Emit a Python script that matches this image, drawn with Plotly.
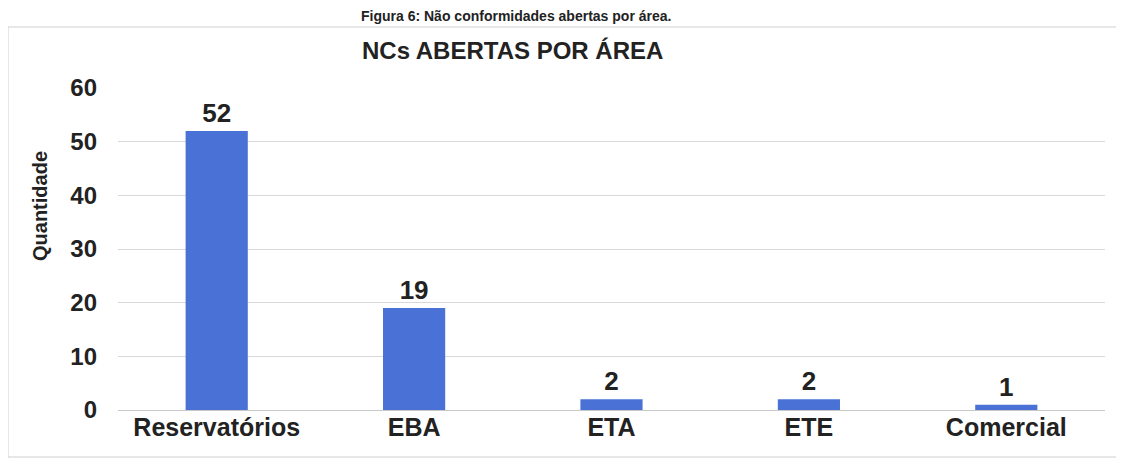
import plotly.graph_objects as go

categories = ["Reservatórios", "EBA", "ETA", "ETE", "Comercial"]
values = [52, 19, 2, 2, 1]
y_ticks = [0, 10, 20, 30, 40, 50, 60]

title_text = "NCs ABERTAS POR ÁREA"
caption_text = "Figura 6: Não conformidades abertas por área."
y_title = "Quantidade"

W, H = 1124, 470
OFF = 8  # page body margin offset
# desired screen positions of plot area
SL, SR, ST, SB = 118, 1105, 88, 410
L = SL - OFF
R = W - (SR - OFF)
T = ST - OFF
B = H - (SB - OFF)
pw = W - L - R
ph = H - T - B

def px_x(px):
    return (px - OFF - L) / pw

def px_y(py):
    return (H - B - (py - OFF)) / ph

fig = go.Figure(go.Bar(
    x=categories, y=values,
    marker=dict(color="#4A72D6", line=dict(width=0)),
    texttemplate="<b>%{y}</b>", textposition="outside",
    textfont=dict(family="Liberation Sans, Arial", size=26, color="#222222"),
    cliponaxis=False,
))

fig.update_layout(
    width=W, height=H,
    margin=dict(l=L, r=R, t=T, b=B, autoexpand=False),
    paper_bgcolor="white", plot_bgcolor="white",
    bargap=0.685,
    showlegend=False,
    font=dict(family="Liberation Sans, Arial", color="#222222"),
    xaxis=dict(
        automargin=False,
        tickfont=dict(size=25, color="#222222"),
        tickvals=categories,
        ticktext=["<b>" + c + "</b>" for c in categories],
        showgrid=False, showline=False, ticks="",
    ),
    yaxis=dict(
        automargin=False,
        range=[0, 60], tickvals=y_ticks,
        ticktext=["<b>" + str(v) + "</b>" for v in y_ticks],
        tickfont=dict(size=24, color="#222222"),
        ticklabelstandoff=20,
        showgrid=True, gridcolor="#d9d9d9", gridwidth=1,
        zeroline=True, zerolinecolor="#c8c8c8", zerolinewidth=1,
        showline=False, ticks="",
    ),
    annotations=[
        dict(text="<b>" + title_text + "</b>", xref="paper", yref="paper",
             x=px_x(512), y=px_y(50), xanchor="center", yanchor="middle",
             showarrow=False, font=dict(size=24, color="#222222")),
        dict(text="<b>" + caption_text + "</b>", xref="paper", yref="paper",
             x=px_x(516), y=px_y(6), xanchor="center", yanchor="top",
             showarrow=False, font=dict(size=14, color="#222222")),
        dict(text="<b>" + y_title + "</b>", xref="paper", yref="paper",
             x=px_x(40), y=px_y(206), xanchor="center", yanchor="middle",
             textangle=-90, showarrow=False, font=dict(size=20, color="#222222")),
    ],
    shapes=[
        dict(type="rect", xref="paper", yref="paper",
             x0=px_x(8), x1=px_x(1118), y0=px_y(457), y1=px_y(27),
             line=dict(color="#cfcfcf", width=1), layer="below"),
    ],
)

fig.write_html("out.html")
